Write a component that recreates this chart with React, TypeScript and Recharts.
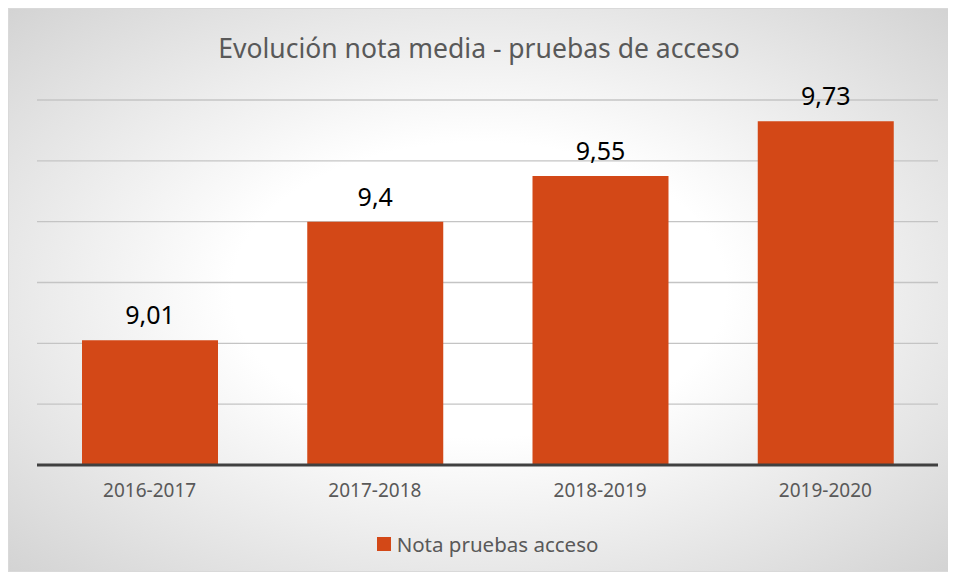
import React from 'react';
import { BarChart, Bar, XAxis, YAxis, CartesianGrid, Legend, LabelList } from 'recharts';

const periods = ['2016-2017', '2017-2018', '2018-2019', '2019-2020'];
const notaMedia = [9.01, 9.4, 9.55, 9.73];
const yTicks = [8.6, 8.8, 9.0, 9.2, 9.4, 9.6, 9.8];

const data = periods.map((period, i) => ({ period, nota: notaMedia[i] }));

const FONT = '"Noto Sans", "Open Sans", sans-serif';
const BAR_COLOR = '#D34817';

const LegendBox = () => (
  <div style={{ display: 'flex', justifyContent: 'center', alignItems: 'center', gap: 6, fontFamily: FONT }}>
    <div style={{ width: 14, height: 14, background: BAR_COLOR }} />
    <span style={{ fontSize: 20.5, color: '#595959' }}>Nota pruebas acceso</span>
  </div>
);

const App: React.FC = () => {
  return (
    <div
      style={{
        position: 'relative',
        width: 940,
        height: 562,
        border: '1px solid #d9d9d9',
        background: 'radial-gradient(ellipse 75% 75% at 50% 50%, #ffffff 35%, #cfcfcf 100%)',
        fontFamily: FONT,
      }}
    >
      <div
        style={{
          position: 'absolute',
          top: 21,
          left: 0,
          width: '100%',
          textAlign: 'center',
          fontSize: 26.5,
          color: '#595959',
        }}
      >
        Evolución nota media - pruebas de acceso
      </div>
      <BarChart
        width={940}
        height={562}
        data={data}
        margin={{ top: 91, right: 11, left: 28, bottom: 13 }}
      >
        <CartesianGrid vertical={false} stroke="#c4c4c4" strokeWidth={1.3} />
        <XAxis
          dataKey="period"
          axisLine={{ stroke: '#404040', strokeWidth: 3 }}
          tickLine={false}
          tick={{ fontSize: 19, fill: '#595959', fontFamily: FONT }}
          tickMargin={13}
          height={65}
        />
        <YAxis hide domain={[8.6, 9.8]} ticks={yTicks} allowDataOverflow />
        <Legend verticalAlign="bottom" content={<LegendBox />} />
        <Bar dataKey="nota" fill={BAR_COLOR} barSize={136} isAnimationActive={false}>
          <LabelList
            dataKey="nota"
            position="top"
            offset={16}
            formatter={(v: any) => String(v).replace('.', ',')}
            style={{ fontSize: 25, fill: '#000000', fontFamily: FONT }}
          />
        </Bar>
      </BarChart>
    </div>
  );
};

export default App;
